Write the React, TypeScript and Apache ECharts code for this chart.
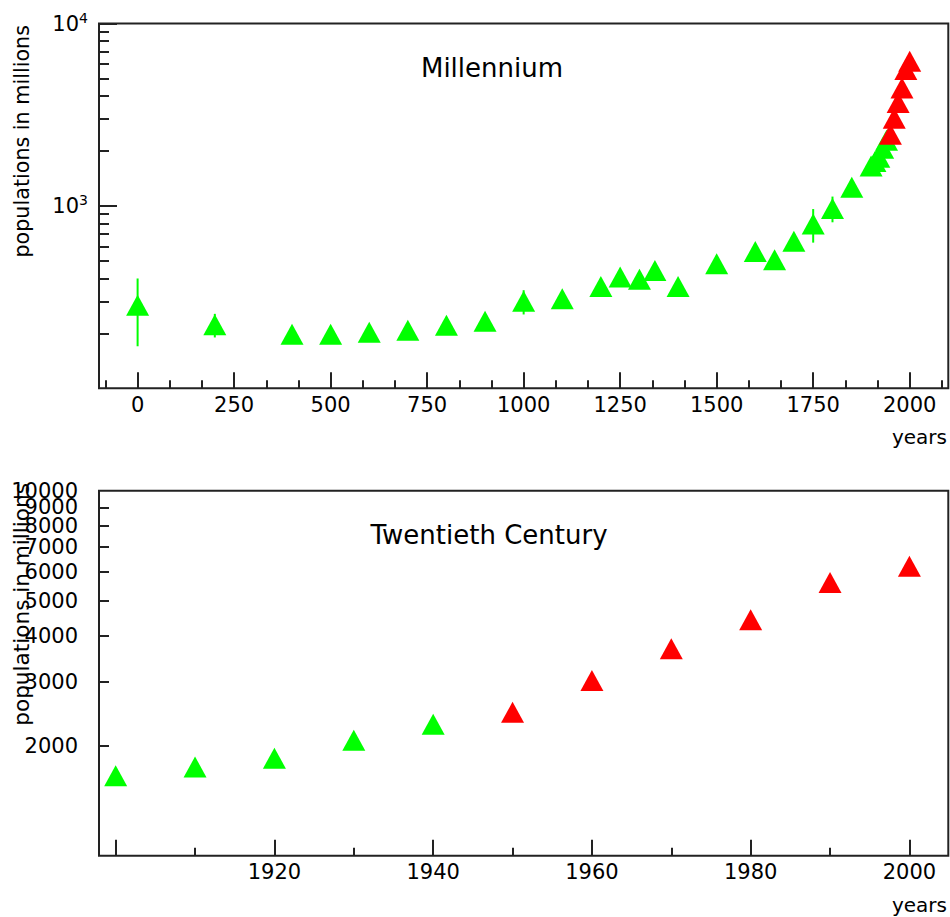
import React, { useEffect, useRef } from 'react';
import * as echarts from 'echarts';

// ---- data (years, population in millions) ----
const YEARS = [0, 200, 400, 500, 600, 700, 800, 900, 1000, 1100, 1200, 1250, 1300, 1340, 1400, 1500, 1600, 1650, 1700, 1750, 1800, 1850, 1900, 1910, 1920, 1930, 1940, 1950, 1960, 1970, 1980, 1990, 2000];
const POP = [285, 223, 198, 198, 203, 208, 222, 233, 300, 310, 361, 408, 396, 443, 362, 482, 562, 507, 640, 795, 969, 1265, 1656, 1750, 1850, 2070, 2290, 2470, 3020, 3690, 4430, 5600, 6210];
const RED_FROM = 1950;
const CENTURY_FROM = 1900;

// error ranges (low / high) for points with estimated ranges
const ERR_YEARS = [0, 200, 1000, 1750, 1800, 1850, 1900];
const ERR_LOW = [170, 190, 254, 629, 813, 1128, 1550];
const ERR_HIGH = [400, 256, 345, 961, 1125, 1402, 1762];

// ---- ticks & labels ----
const TOP_X_MAJOR = [0, 250, 500, 750, 1000, 1250, 1500, 1750, 2000];
const TOP_X_MINOR = [-83.33, 83.33, 166.67, 333.33, 416.67, 583.33, 666.67, 833.33, 916.67, 1083.33, 1166.67, 1333.33, 1416.67, 1583.33, 1666.67, 1833.33, 1916.67, 2083.33];
const TOP_Y_MAJOR = [1000, 10000];
const TOP_Y_MINOR = [200, 300, 400, 500, 600, 700, 800, 900, 2000, 3000, 4000, 5000, 6000, 7000, 8000, 9000];
const BOT_X_MAJOR = [1900, 1920, 1940, 1960, 1980, 2000];
const BOT_X_LABELS = [1920, 1940, 1960, 1980, 2000];
const BOT_X_MINOR = [1910, 1930, 1950, 1970, 1990];
const BOT_Y_TICKS = [2000, 3000, 4000, 5000, 6000, 7000, 8000, 9000];
const BOT_Y_LABELS = [2000, 3000, 4000, 5000, 6000, 7000, 8000, 9000, 10000];

const FONT = 'DejaVu Sans';
const GREEN = '#00ff00';
const RED = '#ff0000';
const INK = '#222';

export default function App() {
  const ref = useRef<HTMLDivElement>(null);

  useEffect(() => {
    if (!ref.current) return;
    const chart = echarts.init(ref.current, null, { renderer: 'svg' });

    const pts = YEARS.map((y, i) => [y, POP[i]]);
    const topGreen = pts.filter((p) => p[0] < RED_FROM);
    const topRed = pts.filter((p) => p[0] >= RED_FROM);
    const botGreen = topGreen.filter((p) => p[0] >= CENTURY_FROM);
    const botRed = topRed.filter((p) => p[0] >= CENTURY_FROM);
    const errData = ERR_YEARS.map((y, i) => [y, ERR_LOW[i], ERR_HIGH[i]]);

    // keep values at the very end of a log extent inside it (float rounding)
    const inside = (vals: number[], max: number) => vals.map((v) => (v >= max ? v * 0.99999 : v));
    // the crowded labels are split over two axes so that none of them is auto-hidden
    const labelsEven = BOT_Y_LABELS.filter((_v, i) => i % 2 === 0);
    const labelsOdd = BOT_Y_LABELS.filter((_v, i) => i % 2 === 1);

    const tickLine = { color: INK, width: 2 };
    const labelBase = { fontSize: 21, fontFamily: FONT, color: '#000' };

    const xAxisDef = (grid: number, min: number, max: number, ticks: number[], len: number, labels: number[] | null) => ({
      type: 'value',
      gridIndex: grid,
      min,
      max,
      position: 'bottom',
      axisLine: { show: false, onZero: false },
      splitLine: { show: false },
      axisTick: { show: true, inside: true, length: len, customValues: ticks, lineStyle: tickLine },
      axisLabel: labels
        ? { show: true, customValues: labels, margin: 6, ...labelBase, formatter: (v: number) => String(Math.round(v)) }
        : { show: false },
    });

    const yAxisDef = (grid: number, min: number, max: number, ticks: number[] | null, len: number, label: any) => ({
      type: 'log',
      logBase: 10,
      gridIndex: grid,
      min,
      max,
      position: 'left',
      axisLine: { show: false, onZero: false },
      splitLine: { show: false },
      minorTick: { show: false },
      axisTick: ticks
        ? { show: true, inside: true, length: len, customValues: inside(ticks, max), lineStyle: tickLine }
        : { show: false },
      axisLabel: label || { show: false },
    });

    const botLabel = (vals: number[]) => ({
      show: true,
      customValues: inside(vals, 10000),
      showMaxLabel: true,
      showMinLabel: true,
      hideOverlap: false,
      margin: 21,
      ...labelBase,
      formatter: (v: number) => String(Math.round(v)),
    });

    const markerSize = [23, 21];

    chart.setOption({
      animation: false,
      backgroundColor: '#fff',
      grid: [
        { left: 99, top: 23.5, right: 1.7, height: 364.8, show: true, borderColor: INK, borderWidth: 2, backgroundColor: 'transparent' },
        { left: 99, top: 490.7, right: 1.7, height: 365, show: true, borderColor: INK, borderWidth: 2, backgroundColor: 'transparent' },
      ],
      xAxis: [
        xAxisDef(0, -100, 2100, TOP_X_MAJOR, 16, TOP_X_MAJOR),
        xAxisDef(0, -100, 2100, TOP_X_MINOR, 8, null),
        xAxisDef(1, 1897.9, 2004.9, BOT_X_MAJOR, 16, BOT_X_LABELS),
        xAxisDef(1, 1897.9, 2004.9, BOT_X_MINOR, 8, null),
      ],
      yAxis: [
        yAxisDef(0, 100, 10000, TOP_Y_MAJOR, 18, {
          show: true,
          customValues: inside(TOP_Y_MAJOR, 10000),
          showMaxLabel: true,
          margin: 11,
          formatter: (v: number) => {
            const e = v > 50 ? Math.round(Math.log10(v)) : Math.round(v);
            return `{b|10}{s|${e}}`;
          },
          rich: {
            b: { fontSize: 21, fontFamily: FONT, color: '#000', lineHeight: 26 },
            s: { fontSize: 14, fontFamily: FONT, color: '#000', lineHeight: 14, verticalAlign: 'top' },
          },
        }),
        yAxisDef(0, 100, 10000, TOP_Y_MINOR, 10, null),
        yAxisDef(1, 1000, 10000, BOT_Y_TICKS, 10, botLabel(labelsEven)),
        yAxisDef(1, 1000, 10000, null, 0, botLabel(labelsOdd)),
      ],
      graphic: [
        { type: 'text', x: 492, y: 68, style: { text: 'Millennium', fontSize: 26, fontFamily: FONT, fill: '#000', align: 'center', verticalAlign: 'middle' } },
        { type: 'text', x: 489, y: 535, style: { text: 'Twentieth Century', fontSize: 26, fontFamily: FONT, fill: '#000', align: 'center', verticalAlign: 'middle' } },
        { type: 'text', x: 947, y: 437, style: { text: 'years', fontSize: 20, fontFamily: FONT, fill: '#000', align: 'right', verticalAlign: 'middle' } },
        { type: 'text', x: 947, y: 905, style: { text: 'years', fontSize: 20, fontFamily: FONT, fill: '#000', align: 'right', verticalAlign: 'middle' } },
        { type: 'text', x: 22, y: 25, rotation: Math.PI / 2, style: { text: 'populations in millions', fontSize: 20.7, fontFamily: FONT, fill: '#000', align: 'right', verticalAlign: 'middle' } },
        { type: 'text', x: 21, y: 483, rotation: Math.PI / 2, style: { text: 'populations in millions', fontSize: 21.6, fontFamily: FONT, fill: '#000', align: 'right', verticalAlign: 'middle' } },
      ],
      series: [
        {
          type: 'custom',
          xAxisIndex: 0,
          yAxisIndex: 0,
          data: errData,
          encode: { x: 0, y: [1, 2] },
          z: 1,
          renderItem: (_params: any, api: any) => {
            const p1 = api.coord([api.value(0), api.value(1)]);
            const p2 = api.coord([api.value(0), api.value(2)]);
            return {
              type: 'line',
              shape: { x1: p1[0], y1: p1[1], x2: p2[0], y2: p2[1] },
              style: { stroke: GREEN, lineWidth: 2 },
            };
          },
        },
        { type: 'scatter', xAxisIndex: 0, yAxisIndex: 0, data: topGreen, symbol: 'triangle', symbolSize: markerSize, itemStyle: { color: GREEN, opacity: 1 }, z: 2 },
        { type: 'scatter', xAxisIndex: 0, yAxisIndex: 0, data: topRed, symbol: 'triangle', symbolSize: markerSize, itemStyle: { color: RED, opacity: 1 }, z: 3 },
        { type: 'scatter', xAxisIndex: 2, yAxisIndex: 2, data: botGreen, symbol: 'triangle', symbolSize: markerSize, itemStyle: { color: GREEN, opacity: 1 }, z: 2 },
        { type: 'scatter', xAxisIndex: 2, yAxisIndex: 2, data: botRed, symbol: 'triangle', symbolSize: markerSize, itemStyle: { color: RED, opacity: 1 }, z: 3 },
      ],
    });

    return () => chart.dispose();
  }, []);

  return <div ref={ref} style={{ position: 'fixed', left: 0, top: 0, width: 950, height: 917 }} />;
}
